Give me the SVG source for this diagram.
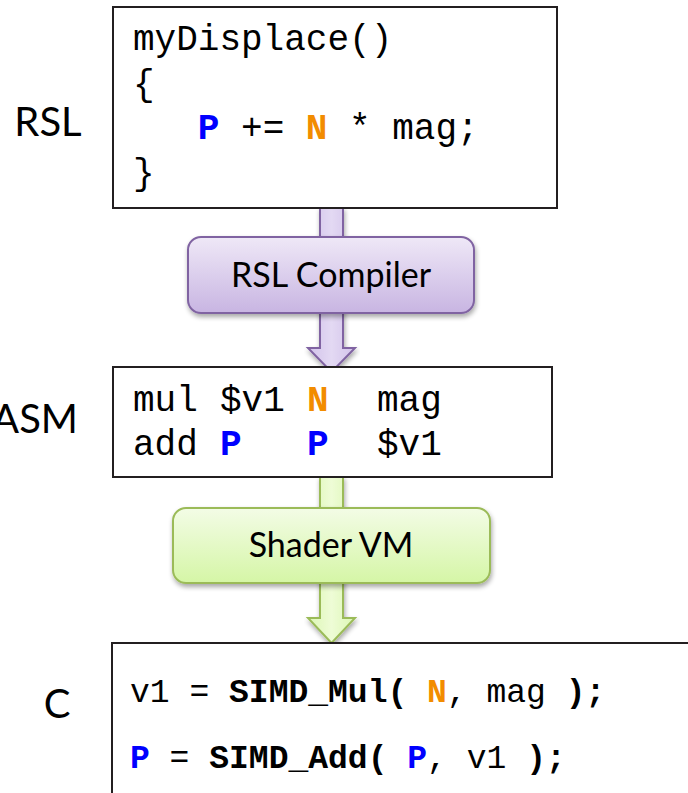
<svg xmlns="http://www.w3.org/2000/svg" width="688" height="793" viewBox="0 0 688 793">
<style>
.code{font-family:"Liberation Mono","Courier New",monospace;fill:#000;}
.b{font-weight:bold;}
.blue{fill:#0000ff;font-weight:bold;}
.orange{fill:#f28c00;font-weight:bold;}
.label{font-family:Lato,"Open Sans",sans-serif;fill:#000;}
.box{fill:#fff;stroke:#231f20;stroke-width:2;}
</style>
<defs>
<linearGradient id="gp" x1="0" y1="0" x2="0" y2="1">
<stop offset="0" stop-color="#efe8f7"/><stop offset="1" stop-color="#c8b5e2"/>
</linearGradient>
<linearGradient id="gps" x1="0" y1="0" x2="1" y2="0">
<stop offset="0" stop-color="#d2c2ea"/><stop offset="0.5" stop-color="#e3d9f3"/><stop offset="1" stop-color="#d2c2ea"/>
</linearGradient>
<linearGradient id="gg" x1="0" y1="0" x2="0" y2="1">
<stop offset="0" stop-color="#f3fce6"/><stop offset="1" stop-color="#d5f6a6"/>
</linearGradient>
<linearGradient id="ggs" x1="0" y1="0" x2="1" y2="0">
<stop offset="0" stop-color="#dcf7b4"/><stop offset="0.5" stop-color="#eefcd6"/><stop offset="1" stop-color="#dcf7b4"/>
</linearGradient>
<filter id="sh" x="-10%" y="-10%" width="120%" height="130%">
<feGaussianBlur in="SourceAlpha" stdDeviation="2.5"/>
<feOffset dx="1" dy="3" result="o"/>
<feComponentTransfer><feFuncA type="linear" slope="0.35"/></feComponentTransfer>
<feMerge><feMergeNode/><feMergeNode in="SourceGraphic"/></feMerge>
</filter>
</defs>

<g id="labels">
<text class="label" x="48" y="136" font-size="40" text-anchor="middle">RSL</text>
<text class="label" x="78" y="433" font-size="40" text-anchor="end">ASM</text>
<text class="label" x="57" y="718" font-size="40" text-anchor="middle">C</text>
</g>

<g id="connectors">
<path d="M320,208 L343,208 L343,348 L355,348 L331.5,372 L308,348 L320,348 Z" fill="url(#gps)" stroke="#8064a2" stroke-width="2" filter="url(#sh)"/>
<path d="M320,477 L343,477 L343,618 L355,618 L331.5,643 L308,618 L320,618 Z" fill="url(#ggs)" stroke="#9bbb59" stroke-width="2" filter="url(#sh)"/>
</g>

<g id="rsl-box">
<rect class="box" x="113" y="7" width="444" height="201"/>
<text class="code" font-size="36" x="133" y="50">myDisplace()</text>
<text class="code" font-size="36" x="133" y="95">{</text>
<text class="code" font-size="36" x="133" y="139" xml:space="preserve">   <tspan class="blue">P</tspan> += <tspan class="orange">N</tspan> * mag;</text>
<text class="code" font-size="36" x="133" y="184">}</text>
</g>

<g id="rsl-compiler">
<rect x="188" y="237" width="286" height="76" rx="13" fill="url(#gp)" stroke="#8064a2" stroke-width="2" filter="url(#sh)"/>
<text class="label" x="331" y="287" font-size="34" text-anchor="middle">RSL Compiler</text>
</g>

<g id="asm-box">
<rect class="box" x="113" y="367" width="439" height="110"/>
<text class="code" font-size="36" y="411"><tspan x="133">mul</tspan><tspan x="220">$v1</tspan><tspan x="307" class="orange">N</tspan><tspan x="377">mag</tspan></text>
<text class="code" font-size="36" y="455"><tspan x="133">add</tspan><tspan x="220" class="blue">P</tspan><tspan x="307" class="blue">P</tspan><tspan x="377">$v1</tspan></text>
</g>

<g id="shader-vm">
<rect x="173" y="508" width="317" height="75" rx="13" fill="url(#gg)" stroke="#9bbb59" stroke-width="2" filter="url(#sh)"/>
<text class="label" x="331" y="557" font-size="34" text-anchor="middle">Shader VM</text>
</g>

<g id="c-box">
<rect class="box" x="112" y="643" width="600" height="200"/>
<text class="code" font-size="33" x="130" y="702" xml:space="preserve">v1 = <tspan class="b">SIMD_Mul(</tspan> <tspan class="orange">N</tspan>, mag <tspan class="b">);</tspan></text>
<text class="code" font-size="33" x="130" y="768" xml:space="preserve"><tspan class="blue">P</tspan> = <tspan class="b">SIMD_Add(</tspan> <tspan class="blue">P</tspan>, v1 <tspan class="b">);</tspan></text>
</g>
</svg>
